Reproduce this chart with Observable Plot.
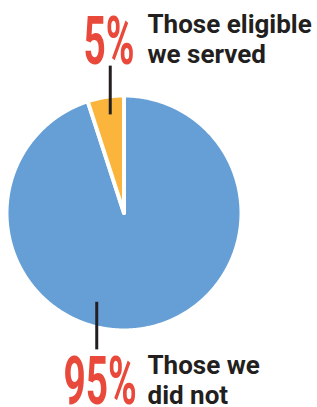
<!DOCTYPE html>
<html>
<head>
<meta charset="utf-8">
<script src="https://cdn.jsdelivr.net/npm/d3@7"></script>
<script src="https://cdn.jsdelivr.net/npm/@observablehq/plot@0.6"></script>
<style>
  html, body { margin: 0; padding: 0; background: #fff; }
  #chart svg { display: block; }
</style>
</head>
<body>
<div id="chart"></div>
<script>
// ---- data ----
const groups = ["Those we did not", "Those eligible we served"];
const shares = [95, 5];
const pctLabels = ["95%", "5%"];
const sliceColors = ["#659fd5", "#fbb53d"];

// ---- slice geometry via d3.pie (angles clockwise from 12 o'clock) ----
const arcs = d3.pie().sort(null)(shares);
const pts = [];
arcs.forEach((a, i) => {
  const key = groups[i];
  pts.push({key, x: 0, y: 0});
  const n = Math.max(2, Math.ceil((a.endAngle - a.startAngle) / (Math.PI / 360)));
  for (let k = 0; k <= n; k++) {
    const t = a.startAngle + (a.endAngle - a.startAngle) * k / n;
    pts.push({key, x: Math.sin(t), y: Math.cos(t)});
  }
  pts.push({key, x: 0, y: 0});
});

const ink = "#231f20";
const red = "#e9493a";

const chart = Plot.plot({
  width: 317,
  height: 407,
  margin: 0,
  x: {domain: [-1, 1], range: [6, 241], axis: null},
  y: {domain: [-1, 1], range: [330, 95], axis: null},
  color: {domain: groups, range: sliceColors},
  style: {background: "#fff"},
  marks: [
    Plot.line(pts, {x: "x", y: "y", z: "key", fill: "key", stroke: "#fff", strokeWidth: 4, curve: "linear"}),
    // leader lines
    Plot.ruleX([groups[1]], {x: () => -0.117, y1: 0.835, y2: 1.25, stroke: ink, strokeWidth: 3}),
    Plot.ruleX([groups[0]], {x: () => -0.232, y1: -0.76, y2: -1.165, stroke: ink, strokeWidth: 3}),
    // big percentages
    Plot.text([pctLabels[1]], {frameAnchor: "top-left", dx: 83, dy: 63, text: d => d, textAnchor: "start", lineAnchor: "bottom",
      fontSize: 67, fontWeight: 700, fill: red, fontFamily: "Roboto", className: "bigpct"}),
    Plot.text([pctLabels[0]], {frameAnchor: "top-left", dx: 63, dy: 403, text: d => d, textAnchor: "start", lineAnchor: "bottom",
      fontSize: 67, fontWeight: 700, fill: red, fontFamily: "Roboto", className: "bigpct"}),
    // descriptions
    Plot.text(["Those eligible\nwe served"], {frameAnchor: "top-left", dx: 147, dy: 62, text: d => d, textAnchor: "start", lineAnchor: "bottom",
      lineHeight: 1.154, fontSize: 26, fontWeight: 700, fill: ink, fontFamily: "Roboto"}),
    Plot.text(["Those we\ndid not"], {frameAnchor: "top-left", dx: 147, dy: 403, text: d => d, textAnchor: "start", lineAnchor: "bottom",
      lineHeight: 1.154, fontSize: 26, fontWeight: 700, fill: ink, fontFamily: "Roboto"})
  ]
});

// condense the big numerals horizontally (tall condensed display face)
chart.querySelectorAll("g.bigpct text").forEach(t => {
  const tr = t.getAttribute("transform") || "";
  t.setAttribute("transform", tr + " scale(0.58,1)");
});

document.getElementById("chart").appendChild(chart);
</script>
</body>
</html>
